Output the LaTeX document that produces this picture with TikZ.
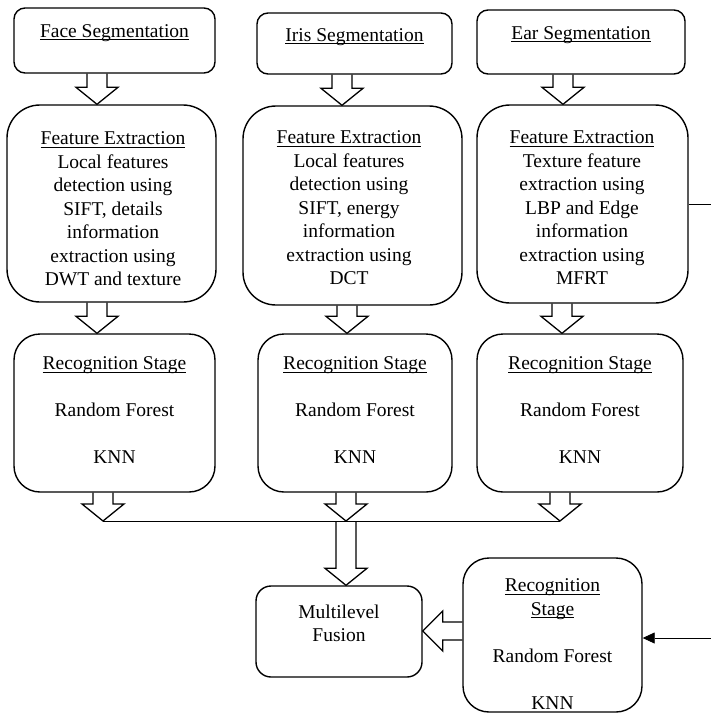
\documentclass[tikz,border=0pt]{standalone}
\usepackage{fontspec}
\setmainfont{Liberation Serif}
\usetikzlibrary{calc,arrows.meta}

% underlined heading at a fixed offset below the baseline
\newsavebox\ulbox
\newcommand\ulword[1]{\sbox\ulbox{#1}\rlap{\rule[-3pt]{\wd\ulbox}{0.9pt}}\usebox\ulbox}

\tikzset{
  box/.style={draw, line width=1.4pt, rounded corners=#1, inner sep=0pt},
  box/.default=11pt,
  txt/.style={align=center, inner sep=0pt, font=\fontsize{19.5}{23.5}\selectfont},
  blk/.style={draw, line width=1.3pt, line join=miter},
  conn/.style={draw, line width=0.8pt},
}

% hollow block arrow pointing down: #1 x of its axis, #2 start, #3 tip
\newcommand\downblock[3]{%
  \draw[blk] let \p1=(#2), \p2=(#3) in
    (#1pt-10pt,\y1) -- (#1pt-10pt,\y2+17pt) -- (#1pt-21pt,\y2+17pt) -- (#1pt,\y2)
    -- (#1pt+21pt,\y2+17pt) -- (#1pt+10pt,\y2+17pt) -- (#1pt+10pt,\y1);}
% hollow block arrow pointing left: #1 y of its axis, #2 start, #3 tip
\newcommand\leftblock[3]{%
  \draw[blk] let \p1=(#2), \p2=(#3) in
    (\x1,#1pt+9pt) -- (\x2+20pt,#1pt+9pt) -- (\x2+20pt,#1pt+20pt) -- (\x2,#1pt)
    -- (\x2+20pt,#1pt-20pt) -- (\x2+20pt,#1pt-9pt) -- (\x1,#1pt-9pt);}

\begin{document}
\begin{tikzpicture}[x=1pt,y=1pt]
\useasboundingbox (0,0) rectangle (711,-713);

% segmentation boxes
\node[box=11pt, minimum width=201pt, minimum height=65pt] (fseg) at (114.5,-40.5) {};
\node[box=11pt, minimum width=195pt, minimum height=61pt] (iseg) at (354.5,-43.5) {};
\node[box=11pt, minimum width=208pt, minimum height=64pt] (eseg) at (581,-42) {};
\node[txt] (fsegt) at (114.5,-33) {\ulword{Face Segmentation}};
\node[txt] (isegt) at (354.5,-37) {\ulword{Iris Segmentation}};
\node[txt] (esegt) at (581,-35) {\ulword{Ear Segmentation}};

% feature extraction boxes
\node[box=33pt, minimum width=209pt, minimum height=197pt] (ffe) at (111.5,-203.5) {};
\node[box=33pt, minimum width=219pt, minimum height=199pt] (ife) at (352.5,-205.5) {};
\node[box=33pt, minimum width=211pt, minimum height=198pt] (efe) at (582.5,-204) {};
\node[txt] (ffet) at (113,-209) {\ulword{Feature Extraction}\\Local features\\detection using\\SIFT, details\\information\\extraction using\\DWT and texture};
\node[txt] (ifet) at (349,-208) {\ulword{Feature Extraction}\\Local features\\detection using\\SIFT, energy\\information\\extraction using\\DCT};
\node[txt] (efet) at (582,-208) {\ulword{Feature Extraction}\\Texture feature\\extraction using\\LBP and Edge\\information\\extraction using\\MFRT};

% recognition boxes
\node[box=26pt, minimum width=201pt, minimum height=158pt] (frec) at (114.5,-413) {};
\node[box=26pt, minimum width=194pt, minimum height=158pt] (irec) at (355,-413) {};
\node[box=26pt, minimum width=206pt, minimum height=158pt] (erec) at (580,-413) {};
\node[txt] (frect) at (114.5,-410) {\ulword{Recognition Stage}\\[23.5pt]Random Forest\\[23.5pt]KNN};
\node[txt] (irect) at (355,-410) {\ulword{Recognition Stage}\\[23.5pt]Random Forest\\[23.5pt]KNN};
\node[txt] (erect) at (580,-410) {\ulword{Recognition Stage}\\[23.5pt]Random Forest\\[23.5pt]KNN};

% fusion and the extra recognition stage
\node[box=15pt, minimum width=166pt, minimum height=91pt] (mlf) at (339,-631.5) {};
\node[txt] (mlft) at (339,-623.5) {Multilevel\\Fusion};
\node[box=26pt, minimum width=179pt, minimum height=154pt] (brec) at (552.5,-635) {};
\node[txt] (brect) at (552.5,-644) {\ulword{Recognition}\\\ulword{Stage}\\[23.5pt]Random Forest\\[23.5pt]KNN};

% collecting line
\coordinate (bf) at (103,-521);
\coordinate (bi) at (346,-521);
\coordinate (be) at (560,-521);
\coordinate (outR) at (711,-204);
\coordinate (inR) at (711,-638);

% block arrows
\downblock{97}{fseg.south}{ffe.north}
\downblock{342}{iseg.south}{ife.north}
\downblock{563}{eseg.south}{efe.north}
\downblock{97}{ffe.south}{frec.north}
\downblock{347}{ife.south}{irec.north}
\downblock{562}{efe.south}{erec.north}
\downblock{103}{frec.south}{bf}
\downblock{346}{irec.south}{bi}
\downblock{560}{erec.south}{be}
\draw[conn] (bf) -- (be);
\downblock{346}{bi}{mlf.north}
\leftblock{-631}{brec.west}{mlf.east}

% side connectors
\draw[conn] (efe.east |- outR) -- (outR);
\draw[conn, -{Triangle[length=12pt,width=11pt]}] (inR) -- (inR -| brec.east);
\end{tikzpicture}
\end{document}
